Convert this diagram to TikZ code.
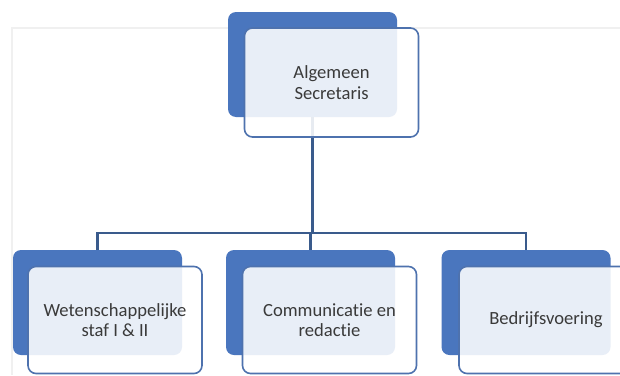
\documentclass[tikz,border=0pt]{standalone}
\usepackage{fontspec}
\setmainfont[Ligatures=NoCommon]{Carlito}
\definecolor{boxblue}{HTML}{4A76BE}
\definecolor{edgeblue}{HTML}{4E72AE}
\definecolor{linkblue}{HTML}{3A5B8C}
\definecolor{textgrey}{HTML}{3A3A3A}
\begin{document}
\begin{tikzpicture}[x=1pt,y=-1pt,
                    back box/.style={rectangle,rounded corners=8pt,fill=boxblue,
                                     minimum width=169pt,minimum height=105pt,inner sep=0pt},
                    front box/.style={rectangle,rounded corners=8pt,draw=edgeblue,line width=1.6pt,
                                      fill=white,fill opacity=0.88,text opacity=1,
                                      minimum width=174pt,minimum height=107pt,
                                      align=center,text=textgrey,
                                      font=\fontsize{18.6}{20.5}\selectfont},
                    link/.style={draw=linkblue,line width=2.2pt}]
        \clip (0,0) rectangle (620,375);
        \fill[white] (0,0) rectangle (620,375);

        % slide frame
        \draw[black!6,line width=1.5pt] (620,28) -- (12,28) -- (12,375);

        % Define vertices
        \node[back box] (secback) at (312.5,64.5) {};
        \node[back box] (wetback) at (97.5,302.5) {};
        \node[back box] (comback) at (310.5,302.5) {};
        \node[back box] (bedback) at (526,302.5) {};

        % Connectors
        \coordinate (bus) at (0,233);
        \draw[link] (secback.south) -- (secback.south |- bus);
        \draw[link] (wetback.north) |- (bedback.north |- bus) -- (bedback.north);
        \draw[link] (comback.north) -- (comback.north |- bus);

        % Front boxes
        \node[front box,minimum height=109pt] (secfront) at ([shift={(19,18)}]secback.center) {Algemeen\\Secretaris};
        \node[front box] (wetfront) at ([shift={(17.5,17.5)}]wetback.center) {Wetenschappelijke\\staf I \& II};
        \node[front box] (comfront) at ([shift={(19,17.5)}]comback.center) {Communicatie en\\redactie};
        \node[front box] (bedfront) at ([shift={(20,17.5)}]bedback.center) {Bedrijfsvoering};
\end{tikzpicture}
\end{document}
